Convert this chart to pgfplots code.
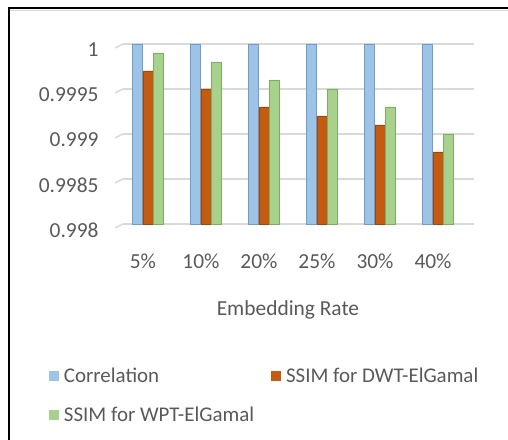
\documentclass[border=0pt]{standalone}
\usepackage{fontspec}
\setmainfont{Carlito}
\usepackage{pgfplots}
\pgfplotsset{compat=1.18}

\definecolor{corrblue}{HTML}{9DC3E6}
\definecolor{corredge}{HTML}{6F9DCB}
\definecolor{dwtorange}{HTML}{C55A11}
\definecolor{dwtedge}{HTML}{9C470D}
\definecolor{wptgreen}{HTML}{A9D18E}
\definecolor{wptedge}{HTML}{7DAD60}
\definecolor{labelgray}{HTML}{595959}
\definecolor{gridgray}{HTML}{D9D9D9}

\begin{document}
\begin{tikzpicture}
\useasboundingbox (0bp,0bp) rectangle (508bp,440bp);
% chart frame
\draw[line width=2bp] (9bp,0bp) -- (9bp,432bp) -- (508bp,432bp);
\draw[gridgray, line width=1bp] (10bp,429.5bp) -- (508bp,429.5bp);

\begin{axis}[
  at={(123bp,216bp)}, anchor=south west,
  scale only axis, width=351bp, height=180bp,
  ybar=0.6bp, bar width=10bp,
  xmin=-0.43, xmax=5.62,
  ymin=0.998, ymax=1,
  xtick=data,
  xticklabels={5\%,10\%,20\%,25\%,30\%,40\%},
  ytick={0.998,0.9985,0.999,0.9995,1},
  yticklabels={0.998,0.9985,0.999,0.9995,1},
  axis line style={draw=none},
  major tick length=0pt,
  ymajorgrids,
  grid style={gridgray, line width=1.5bp},
  tick label style={font=\fontsize{21.5}{25}\selectfont, text=labelgray},
  yticklabel style={anchor=east, xshift=-21bp, yshift=-6bp},
  xticklabel style={anchor=base, yshift=-44bp, xshift=-5bp},
  xlabel={Embedding Rate},
  xlabel style={at={(axis description cs:0.47,-0.48)}, anchor=center,
    font=\fontsize{21.5}{25}\selectfont, text=labelgray},
  legend columns=2,
  legend image code/.code={\path[#1, draw=none] (0bp,-5bp) rectangle (10bp,5bp);},
  legend style={draw=none, fill=none,
    at={(-0.22,-0.775)}, anchor=north west,
    font=\fontsize{21}{24}\selectfont, text=labelgray,
    row sep=19bp,
    /tikz/every odd column/.append style={column sep=3bp},
    /tikz/every even column/.append style={column sep=15bp}},
  legend cell align=left,
  clip=false,
]
\addplot[fill=corrblue, draw=corredge, line width=0.8bp] coordinates
  {(0,1) (1,1) (2,1) (3,1) (4,1) (5,1)};
\addplot[fill=dwtorange, draw=dwtedge, line width=0.8bp] coordinates
  {(0,0.9997) (1,0.9995) (2,0.9993) (3,0.9992) (4,0.9991) (5,0.9988)};
\addplot[fill=wptgreen, draw=wptedge, line width=0.8bp] coordinates
  {(0,0.9999) (1,0.9998) (2,0.9996) (3,0.9995) (4,0.9993) (5,0.9990)};
\legend{Correlation, SSIM for DWT-ElGamal, SSIM for WPT-ElGamal}
% slanted floor stubs at the left end of each grid line
\pgfplotsinvokeforeach{0.998,0.9985,0.999,0.9995,1}{
  \draw[gridgray, line width=1.5bp]
    ([xshift=-8bp, yshift=-4bp]axis cs:-0.43,#1) -- (axis cs:-0.43,#1);
}
\end{axis}
\end{tikzpicture}
\end{document}
